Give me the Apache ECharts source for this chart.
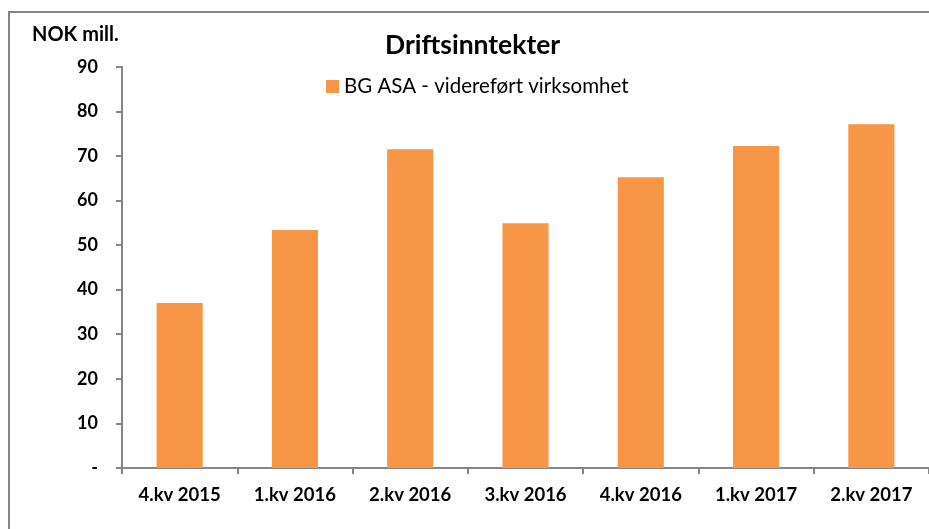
<!DOCTYPE html>
<html>
<head>
<meta charset="utf-8">
<script src="https://cdn.jsdelivr.net/npm/echarts@6/dist/echarts.min.js"></script>
<style>html,body{margin:0;padding:0;background:#fff;}#c{width:929px;height:529px;}</style>
</head>
<body>
<div id="c"></div>
<script>
const categories = ['4.kv 2015', '1.kv 2016', '2.kv 2016', '3.kv 2016', '4.kv 2016', '1.kv 2017', '2.kv 2017'];
const seriesName = 'BG ASA - videreført virksomhet';
const values = [37.0, 53.4, 71.5, 54.9, 65.2, 72.2, 77.1];
const yTicks = { min: 0, max: 90, interval: 10 };
const titleText = 'Driftsinntekter';
const unitText = 'NOK mill.';

const FONT = 'Lato';
const chart = echarts.init(document.getElementById('c'), null, { renderer: 'canvas' });
chart.setOption({
  animation: false,
  backgroundColor: '#fff',
  graphic: [{
    type: 'rect', silent: true,
    shape: { x: 9, y: 12, width: 1000, height: 1000 },
    style: { fill: null, stroke: '#868686', lineWidth: 2 }
  }],
  title: [
    { text: titleText, left: 385, top: 32, padding: 0,
      textStyle: { fontFamily: FONT, fontWeight: 'bold', fontSize: 26.5, color: '#000' } },
    { text: unitText, left: 32, top: 25, padding: 0,
      textStyle: { fontFamily: FONT, fontWeight: 'bold', fontSize: 20, color: '#000' } }
  ],
  legend: {
    left: 326, top: 76, padding: 0, itemWidth: 13, itemHeight: 13, itemGap: 10,
    icon: 'rect',
    textStyle: { fontFamily: FONT, fontSize: 20.5, color: '#000' },
    data: [seriesName]
  },
  grid: { left: 122, top: 66.7, width: 808.5, height: 401.3, containLabel: false },
  xAxis: {
    type: 'category', data: categories,
    axisLine: { lineStyle: { color: '#868686', width: 2 } },
    axisTick: { show: true, length: 6, lineStyle: { color: '#868686', width: 2 } },
    axisLabel: { margin: 18, fontFamily: FONT, fontWeight: 'bold', fontSize: 18.5, color: '#000' }
  },
  yAxis: {
    type: 'value', min: yTicks.min, max: yTicks.max, interval: yTicks.interval,
    splitLine: { show: false },
    axisLine: { show: true, lineStyle: { color: '#868686', width: 2 } },
    axisTick: { show: true, length: 6, lineStyle: { color: '#868686', width: 2 } },
    axisLabel: { margin: 24, fontFamily: FONT, fontWeight: 'bold', fontSize: 18, color: '#000',
      formatter: v => v === 0 ? '-' : String(v) }
  },
  series: [{
    name: seriesName, type: 'bar', data: values, barCategoryGap: '60%',
    itemStyle: { color: '#F79646' }
  }]
});
</script>
</body>
</html>
